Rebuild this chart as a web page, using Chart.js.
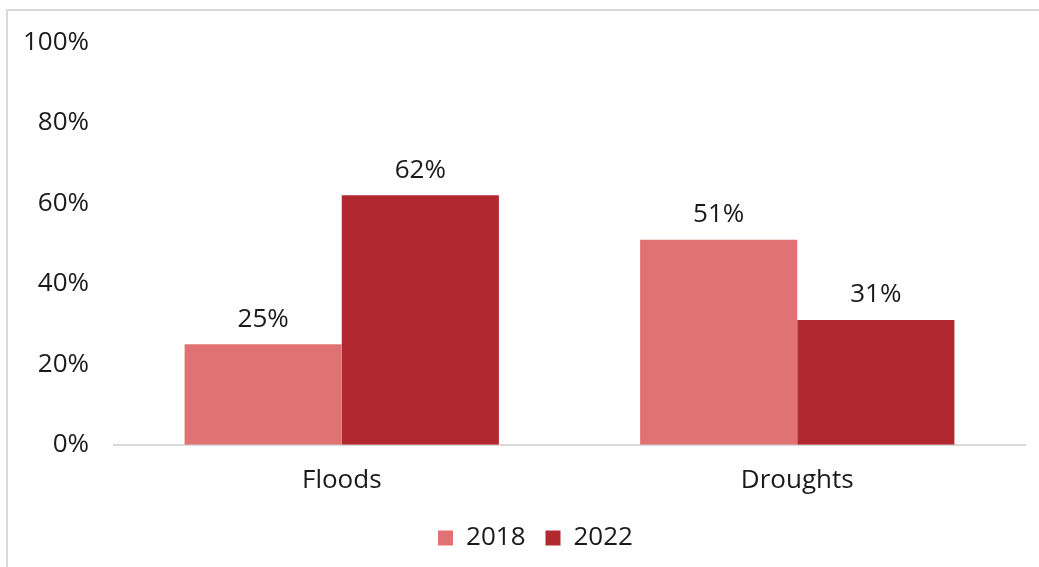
<!DOCTYPE html>
<html>
<head>
<meta charset="utf-8">
<script src="https://cdn.jsdelivr.net/npm/chart.js@4"></script>
<style>
  html, body { margin: 0; padding: 0; background: #fff; overflow: hidden; }
  #frame {
    position: absolute; left: 6px; top: 9px;
    width: 1060px; height: 580px;
    border: 2px solid #d9d9d9; background: #fff;
  }
  #chart { display: block; }
</style>
</head>
<body>
<div id="frame"><canvas id="chart" width="1033" height="558"></canvas></div>
<script>
const categories = ["Floods", "Droughts"];
const years = ["2018", "2022"];
const values2018 = [25, 51];
const values2022 = [62, 31];
const yTicks = [0, 20, 40, 60, 80, 100];

const FONT = "'Century Gothic', 'Open Sans', sans-serif";
const FONT_SIZE = 26;
Chart.defaults.font.family = FONT;
Chart.defaults.font.size = FONT_SIZE;
Chart.defaults.color = "#1a1a1a";

// value labels on top of each bar
const barLabels = {
  id: "barLabels",
  afterDatasetsDraw(chart) {
    const ctx = chart.ctx;
    ctx.save();
    ctx.font = FONT_SIZE + "px " + FONT;
    ctx.fillStyle = "#1a1a1a";
    ctx.textAlign = "center";
    ctx.textBaseline = "bottom";
    chart.data.datasets.forEach((ds, i) => {
      chart.getDatasetMeta(i).data.forEach((bar, j) => {
        ctx.fillText(ds.data[j] + "%", bar.x, bar.y - 12);
      });
    });
    ctx.restore();
  }
};

// the frame is wider than the visible canvas, so centre the legend on it
const legendShift = {
  id: "legendShift",
  afterLayout(chart) {
    chart.legend.left += 19;
    chart.legend.right += 19;
  }
};

const ctx = document.getElementById("chart");
const myChart = new Chart(ctx, {
  type: "bar",
  data: {
    labels: categories,
    datasets: [
      {
        label: years[0],
        data: values2018,
        backgroundColor: "#e07274",
      },
      {
        label: years[1],
        data: values2022,
        backgroundColor: "#b2282f",
      },
    ],
  },
  options: {
    responsive: false,
    animation: false,
    events: [],
    layout: {
      padding: { top: 29, right: 16, left: 0, bottom: 8 },
    },
    datasets: {
      bar: { categoryPercentage: 0.69, barPercentage: 1.0 },
    },
    scales: {
      x: {
        afterFit(scale) {
          scale.height -= 11;
        },
        grid: { display: false, drawTicks: false },
        border: { display: true, color: "#d9d9d9", width: 2 },
        ticks: { padding: 20, color: "#1a1a1a" },
      },
      y: {
        min: 0,
        max: 100,
        afterBuildTicks(scale) {
          scale.ticks = yTicks.map(v => ({ value: v }));
        },
        afterFit(scale) {
          scale.width = 106;
        },
        grid: { display: false, drawTicks: false },
        border: { display: false },
        ticks: {
          padding: 25,
          color: "#1a1a1a",
          font: { lineHeight: 0.5 },
          callback: v => v + "%",
        },
      },
    },
    plugins: {
      legend: {
        position: "bottom",
        labels: {
          boxWidth: 15,
          boxHeight: 15,
          padding: 20,
          color: "#1a1a1a",
        },
      },
      tooltip: { enabled: false },
    },
  },
  plugins: [barLabels, legendShift],
});
</script>
</body>
</html>
